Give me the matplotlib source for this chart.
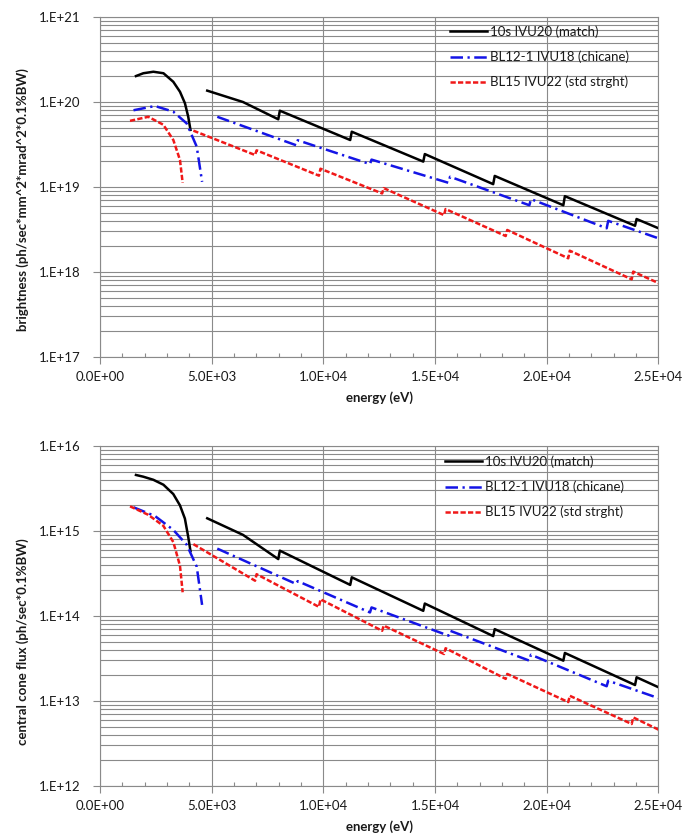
import numpy as np
import matplotlib
matplotlib.use("Agg")
import matplotlib.pyplot as plt
from matplotlib.ticker import FixedLocator, MultipleLocator, FuncFormatter, LogLocator, NullFormatter

nan = np.nan

# ---------------------------------------
# DATA
# ---------------------------------------
series_names = ["10s IVU20 (match)", "BL12-1 IVU18 (chicane)", "BL15 IVU22 (std strght)"]

# energies (eV); nan separates the low-energy branch from the harmonic branch
black_e = [1610, 1940, 2390, 2840, 3280, 3580, 3800, 3950, 4050, nan,
           4800, 6400, 7980, 8050, 11200, 11270, 14470, 14540, 17600, 17670,
           20740, 20810, 23950, 24020, 25000]
blue_e = [1500, 2460, 3280, 3880, 4330, 4570, nan,
          5250, 8780, 8850, 12085, 12155, 15600, 15670, 19220, 19290,
          22680, 22750, 25000]
red_e = [1343, 2160, 2835, 3283, 3580, 3700, nan,
         4180, 6940, 7010, 9800, 9870, 12630, 12700, 15400, 15470,
         18160, 18230, 20960, 21030, 23800, 23870, 25000]

# brightness (ph/sec*mm^2*mrad^2*0.1%BW)
bright_black = [2.02e20, 2.18e20, 2.27e20, 2.18e20, 1.73e20, 1.32e20, 9.7e19, 6.7e19, 4.7e19, nan,
                1.36e20, 1.0e20, 6.26e19, 7.9e19, 3.57e19, 4.47e19, 1.99e19, 2.44e19, 1.08e19, 1.35e19,
                6.1e18, 7.8e18, 3.5e18, 4.2e18, 3.27e18]
bright_blue = [8.0e19, 8.97e19, 7.7e19, 5.6e19, 2.98e19, 1.15e19, nan,
               6.7e19, 3.1e19, 3.55e19, 1.86e19, 2.1e19, 1.12e19, 1.32e19, 6.1e18, 7.2e18,
               3.27e18, 4.0e18, 2.49e18]
bright_red = [6.0e19, 6.7e19, 5.4e19, 3.57e19, 2.08e19, 1.12e19, nan,
              4.6e19, 2.38e19, 2.7e19, 1.36e19, 1.64e19, 8.4e18, 9.7e18, 4.67e18, 5.5e18,
              2.65e18, 3.12e18, 1.45e18, 1.78e18, 8.2e17, 1.01e18, 7.4e17]

# central cone flux (ph/sec*0.1%BW)
flux_black = [4.56e15, 4.35e15, 4.0e15, 3.5e15, 2.72e15, 2.0e15, 1.4e15, 8.5e14, 5.8e14, nan,
              1.41e15, 9.0e14, 4.67e14, 5.87e14, 2.32e14, 2.85e14, 1.15e14, 1.4e14, 5.8e13, 7.0e13,
              2.98e13, 3.67e13, 1.54e13, 1.9e13, 1.45e13]
flux_blue = [1.9e15, 1.5e15, 1.03e15, 6.9e14, 3.8e14, 1.35e14, nan,
             6.2e14, 2.38e14, 2.57e14, 1.1e14, 1.26e14, 5.87e13, 6.7e13, 2.98e13, 3.5e13,
             1.49e13, 1.73e13, 1.08e13]
flux_red = [1.95e15, 1.55e15, 1.15e15, 7.4e14, 3.9e14, 1.9e14, nan,
            7.0e14, 2.6e14, 3.1e14, 1.28e14, 1.57e14, 6.7e13, 7.7e13, 3.57e13, 4.17e13,
            1.82e13, 2.08e13, 9.7e12, 1.15e13, 5.36e12, 6.4e12, 4.6e12]

x_ticks = [0, 5000, 10000, 15000, 20000, 25000]

plt.rcParams['font.family'] = ['Lato', 'DejaVu Sans']

TEXT = '#1a1a1a'
GRID = '#8a8a8a'

styles = [
    dict(color='#000000', lw=1.8, linestyle='-'),
    dict(color='#1414e6', lw=1.8, dashes=(5, 1.8, 0.9, 1.8)),
    dict(color='#f01818', lw=1.8, dashes=(2.1, 0.9)),
]


def style_axes(ax, ymin, ymax, ylabel, label_y):
    ax.set_yscale('log')
    ax.set_xlim(0, 25000)
    ax.set_ylim(ymin, ymax)

    ax.xaxis.set_major_locator(FixedLocator(x_ticks))
    ax.xaxis.set_minor_locator(MultipleLocator(1000))
    ax.xaxis.set_major_formatter(FuncFormatter(lambda v, p: f"{v:.1E}"))

    ax.yaxis.set_major_locator(LogLocator(base=10, numticks=20))
    ax.yaxis.set_minor_locator(LogLocator(base=10, subs=np.arange(2, 10), numticks=20))
    ax.yaxis.set_minor_formatter(NullFormatter())
    ax.yaxis.set_major_formatter(FuncFormatter(lambda v, p: f"1.E+{int(round(np.log10(v))):02d}"))

    ax.grid(True, which='major', axis='x', color=GRID, lw=0.8)
    ax.grid(True, which='both', axis='y', color=GRID, lw=0.8)
    ax.set_axisbelow(True)

    ax.tick_params(axis='x', which='major', direction='out', length=5, width=0.8,
                   color=GRID, pad=5, labelsize=9.5, labelcolor=TEXT)
    ax.tick_params(axis='x', which='minor', direction='in', length=3, width=0.8, color=GRID)
    ax.tick_params(axis='y', which='major', direction='out', length=5, width=0.8,
                   color=GRID, pad=9, labelsize=9.5, labelcolor=TEXT)
    ax.tick_params(axis='y', which='minor', length=0)
    for s in ax.spines.values():
        s.set_color(GRID)
        s.set_linewidth(0.8)

    ax.set_xlabel('energy (eV)', fontsize=9.5, fontweight='bold', color=TEXT, labelpad=6)
    ax.set_ylabel(ylabel, fontsize=9.5, fontweight='bold', color=TEXT)
    ax.yaxis.set_label_coords(-0.128, label_y)


fig = plt.figure(figsize=(6.84, 8.38), dpi=100)
ax1 = fig.add_axes([0.1462, 0.574, 0.8165, 0.4057])
ax2 = fig.add_axes([0.1462, 0.0621, 0.8165, 0.4057])

energies = [black_e, blue_e, red_e]

for e, v, name, st in zip(energies, [bright_black, bright_blue, bright_red], series_names, styles):
    ax1.plot(e, v, label=name, **st)
for e, v, name, st in zip(energies, [flux_black, flux_blue, flux_red], series_names, styles):
    ax2.plot(e, v, label=name, **st)

style_axes(ax1, 1e17, 1e21, 'brightness (ph/sec*mm^2*mrad^2*0.1%BW)', 0.462)
style_axes(ax2, 1e12, 1e16, 'central cone flux (ph/sec*0.1%BW)', 0.424)

for ax, anchor in [(ax1, (0.627, 0.975)), (ax2, (0.618, 0.972))]:
    ax.legend(loc='upper left', bbox_to_anchor=anchor, frameon=False, fontsize=9.5,
              handlelength=2.8, handletextpad=0.2, labelspacing=0.95,
              borderpad=0, borderaxespad=0, labelcolor=TEXT)

fig.savefig('out.png', dpi=100, facecolor='white')
